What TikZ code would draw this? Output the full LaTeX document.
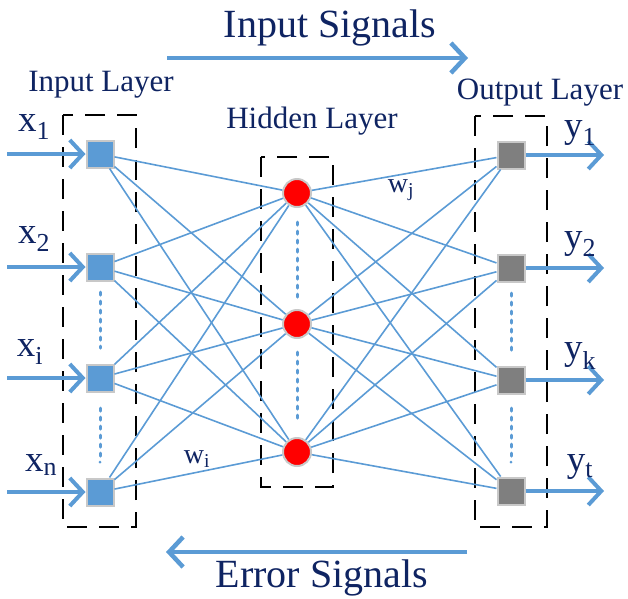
\documentclass[tikz,border=0pt]{standalone}
\usepackage{fontspec}
\setmainfont{Liberation Serif}
\usetikzlibrary{arrows.meta}
\definecolor{lblue}{HTML}{5B9BD5}
\definecolor{navy}{HTML}{0F2462}
\definecolor{ngray}{HTML}{7F7F7F}
\definecolor{bgray}{HTML}{C8C8C8}
\tikzset{
  insq/.style={rectangle, draw=bgray, line width=2pt, fill=lblue, minimum size=27pt, inner sep=0pt},
  outsq/.style={rectangle, draw=bgray, line width=2pt, fill=ngray, minimum size=27pt, inner sep=0pt},
  hid/.style={circle, draw=bgray, line width=2pt, fill=red, minimum size=28pt, inner sep=0pt},
  conn/.style={draw=lblue, line width=1.6pt},
  arr/.style={draw=lblue, line width=4pt, -{Straight Barb[length=13pt,width=28pt]}},
  sigarr/.style={draw=lblue, line width=4.5pt, -{Straight Barb[length=14pt,width=30pt]}},
  dbox/.style={draw=black, line width=2.5pt, dash pattern=on 20pt off 12pt},
  dots/.style={draw=lblue, line width=3pt, line cap=round, dash pattern=on 3pt off 6pt},
  lbl/.style={text=navy, font=\fontsize{31}{31}\selectfont, inner sep=0pt},
  var/.style={text=navy, font=\fontsize{37}{37}\selectfont, inner sep=0pt},
  wlbl/.style={text=navy, font=\fontsize{28}{28}\selectfont, inner sep=0pt},
  sig/.style={text=navy, font=\fontsize{40}{40}\selectfont, inner sep=0pt}
}
\begin{document}
\begin{tikzpicture}[x=1pt,y=-1pt]
\useasboundingbox (0,0) rectangle (628,598);
% dashed layer boxes
\draw[dbox] (63,115) rectangle (136,527);
\draw[dbox] (261,157) rectangle (333,487);
\draw[dbox] (475,116) rectangle (547,527);
% nodes
\node[insq] (i1) at (100,154) {};
\node[insq] (i2) at (100,267) {};
\node[insq] (i3) at (100,378) {};
\node[insq] (i4) at (100,492) {};
\node[hid] (h1) at (297,193) {};
\node[hid] (h2) at (297,324) {};
\node[hid] (h3) at (297,452) {};
\node[outsq] (o1) at (511,155) {};
\node[outsq] (o2) at (511,268) {};
\node[outsq] (o3) at (511,380) {};
\node[outsq] (o4) at (511,491) {};
% connections
\foreach \a in {i1,i2,i3,i4}{
  \foreach \b in {h1,h2,h3}{
    \draw[conn] (\a) -- (\b);
  }
}
\foreach \a in {h1,h2,h3}{
  \foreach \b in {o1,o2,o3,o4}{
    \draw[conn] (\a) -- (\b);
  }
}
% dotted continuations
\coordinate (d1a) at (100,292); \coordinate (d1b) at (100,348);
\coordinate (d2a) at (100,408); \coordinate (d2b) at (100,462);
\coordinate (d3a) at (297,222); \coordinate (d3b) at (297,297);
\coordinate (d4a) at (297,352); \coordinate (d4b) at (297,420);
\coordinate (d5a) at (511,293); \coordinate (d5b) at (511,350);
\coordinate (d6a) at (511,408); \coordinate (d6b) at (511,462);
\draw[dots] (d1a) -- (d1b);
\draw[dots] (d2a) -- (d2b);
\draw[dots] (d3a) -- (d3b);
\draw[dots] (d4a) -- (d4b);
\draw[dots] (d5a) -- (d5b);
\draw[dots] (d6a) -- (d6b);
% input arrows
\coordinate (s1) at (7,154); \coordinate (s2) at (7,267);
\coordinate (s3) at (7,378); \coordinate (s4) at (7,492);
\draw[arr] (s1) -- (i1);
\draw[arr] (s2) -- (i2);
\draw[arr] (s3) -- (i3);
\draw[arr] (s4) -- (i4);
% output arrows
\coordinate (e1) at (604,155); \coordinate (e2) at (604,268);
\coordinate (e3) at (604,380); \coordinate (e4) at (604,491);
\draw[arr] (o1) -- (e1);
\draw[arr] (o2) -- (e2);
\draw[arr] (o3) -- (e3);
\draw[arr] (o4) -- (e4);
% signal arrows
\coordinate (ia) at (167,58); \coordinate (ib) at (468,58);
\draw[sigarr] (ia) -- (ib);
\coordinate (ea) at (467,552); \coordinate (eb) at (166,552);
\draw[sigarr] (ea) -- (eb);
% labels
\node[sig] (tin) at (330,28) {Input Signals};
\node[sig] (terr) at (322,578) {Error Signals};
\node[lbl] (lin) at (101,85) {Input Layer};
\node[lbl] (lhid) at (312,121) {Hidden Layer};
\node[lbl] (lout) at (540,93) {Output Layer};
\node[var] (x1) at (34,127) {x\textsubscript{1}};
\node[var] (x2) at (34,239) {x\textsubscript{2}};
\node[var] (xi) at (30,352) {x\textsubscript{i}};
\node[var] (xn) at (41,465) {x\textsubscript{n}};
\node[var] (y1) at (580,133) {y\textsubscript{1}};
\node[var] (y2) at (580,244) {y\textsubscript{2}};
\node[var] (yk) at (580,356) {y\textsubscript{k}};
\node[var] (yt) at (580,467) {y\textsubscript{t}};
\node[wlbl] (wi) at (197,459) {w\textsubscript{i}};
\node[wlbl] (wj) at (401,190) {w\textsubscript{j}};
\end{tikzpicture}
\end{document}
